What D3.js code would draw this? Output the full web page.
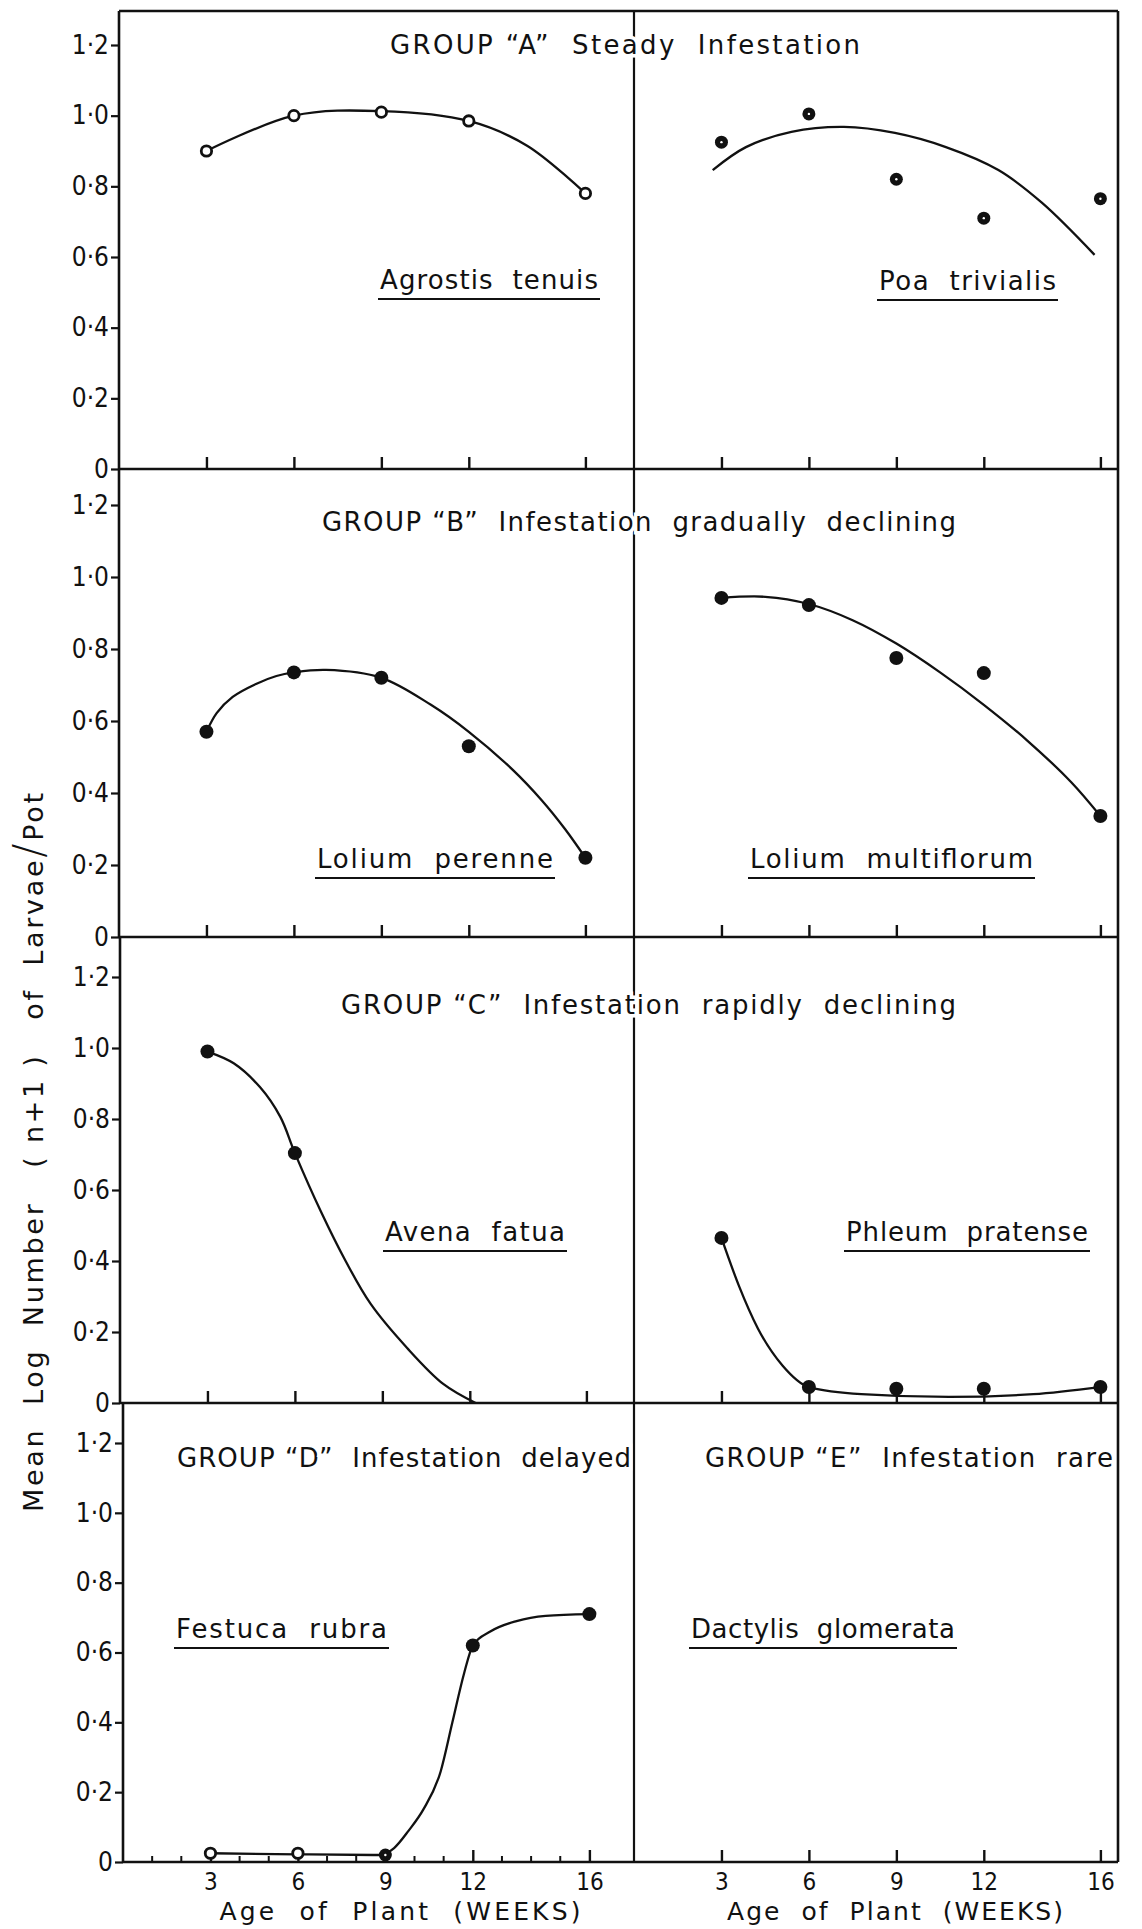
<!DOCTYPE html>
<html>
<head>
<meta charset="utf-8">
<script src="https://cdn.jsdelivr.net/npm/d3@7"></script>
<style>
  body { margin: 0; background: #fff; }
  svg text { font-family: "DejaVu Sans", "Open Sans", sans-serif; fill: #111; white-space: pre; }
  svg .tick text { font-family: "DejaVu Sans Condensed", "DejaVu Sans", sans-serif; }
</style>
</head>
<body>
<svg id="chart" width="1142" height="1929"></svg>
<script>
// ---- data ----------------------------------------------------------------
const weeks = [3, 6, 9, 12, 16];
const minorWeeks = [1, 2, 4, 5, 7, 8, 10, 11, 13, 14, 15];
const yTickValues = [0, 0.2, 0.4, 0.6, 0.8, 1.0, 1.2];
const xTickLabels = ["3", "6", "9", "12", "16"];

const groupTitles = [
  "GROUP \u201CA\u201D  Steady  Infestation",
  "GROUP \u201CB\u201D  Infestation  gradually  declining",
  "GROUP \u201CC\u201D  Infestation  rapidly  declining",
  "GROUP \u201CD\u201D  Infestation  delayed",
  "GROUP \u201CE\u201D  Infestation  rare"
];
const speciesNames = [
  "Agrostis  tenuis", "Poa  trivialis",
  "Lolium  perenne", "Lolium  multiflorum",
  "Avena  fatua", "Phleum  pratense",
  "Festuca  rubra", "Dactylis  glomerata"
];

// mean log (n+1) larvae per pot at 3, 6, 9, 12 and 16 weeks
const agrostisTenuis    = [0.90, 1.00, 1.01, 0.985, 0.78];
const poaTrivialis      = [0.925, 1.005, 0.82, 0.71, 0.765];
const loliumPerenne     = [0.57, 0.735, 0.72, 0.53, 0.22];
const loliumMultiflorum = [0.942, 0.922, 0.775, 0.733, 0.336];
const avenaFatua        = [0.99, 0.704, null, null, null];
const phleumPratense    = [0.465, 0.045, 0.04, 0.04, 0.045];
const festucaRubra      = [0.025, 0.025, 0.02, 0.62, 0.71];
const dactylisGlomerata = [null, null, null, null, null];

// hand-fitted trend curves: [week, value]
const agrostisTenuisFit = [[3,0.90],[6,1.0],[9,1.013],[12,0.985],[14,0.915],[16,0.78]];
const poaTrivialisFit = [[2.7,0.846],[3.84,0.911],[5.4,0.954],[7.2,0.968],[8.95,0.951],[10.7,0.911],[12.5,0.846],[14.0,0.753],[15.8,0.606]];
const loliumPerenneFit = [[3,0.57],[3.35,0.622],[3.9,0.667],[4.7,0.703],[5.4,0.725],[6,0.735],[7.1,0.742],[9,0.72],[10.7,0.645],[12,0.57],[13.5,0.465],[14.5,0.38],[15.3,0.3],[16,0.22]];
const loliumMultiflorumFit = [[3,0.942],[4.5,0.945],[6,0.925],[7.5,0.88],[9,0.815],[10.5,0.735],[12,0.645],[13.5,0.545],[15,0.43],[16,0.336]];
const avenaFatuaFit = [[3,0.99],[3.9,0.957],[4.8,0.89],[5.5,0.806],[6,0.704],[6.9,0.538],[7.74,0.40],[8.6,0.279],[9.85,0.155],[11.1,0.053],[12.2,0]];
const phleumPratenseFit = [[3,0.465],[3.6,0.33],[4.25,0.21],[5.1,0.105],[6,0.045],[7.8,0.025],[10.8,0.017],[13.7,0.025],[16,0.045]];
const festucaRubraFit = [[3,0.025],[6,0.022],[8.8,0.02],[9.3,0.04],[9.8,0.09],[10.3,0.15],[10.9,0.26],[11.3,0.40],[11.7,0.54],[12,0.62],[12.6,0.66],[13.5,0.69],[14.5,0.705],[16,0.71]];

// marker style of each plotted mean
const agrostisTenuisMarks    = ["open", "open", "open", "open", "open"];
const poaTrivialisMarks      = ["ring", "ring", "ring", "ring", "ring"];
const loliumPerenneMarks     = ["filled", "filled", "filled", "filled", "filled"];
const loliumMultiflorumMarks = ["filled", "filled", "filled", "filled", "filled"];
const avenaFatuaMarks        = ["filled", "filled", "filled", "filled", "filled"];
const phleumPratenseMarks    = ["filled", "filled", "filled", "filled", "filled"];
const festucaRubraMarks      = ["open", "open", "ring", "filled", "filled"];

// ---- layout --------------------------------------------------------------
const svg = d3.select("#chart");
const rows = [
  { top: 11,   base: 469,  y12: 45,   left: 119 },
  { top: 469,  base: 937,  y12: 505,  left: 119 },
  { top: 937,  base: 1403, y12: 977,  left: 120 },
  { top: 1403, base: 1862, y12: 1443, left: 123 }
];
const divider = 634, rightEdge = 1118, weekPx = 29.15;

const panels = [
  { row: 0, side: 0, name: 0, values: agrostisTenuis, fit: agrostisTenuisFit, marks: agrostisTenuisMarks, label: [380, 289, 218], smooth: true },
  { row: 0, side: 1, name: 1, values: poaTrivialis, fit: poaTrivialisFit, marks: poaTrivialisMarks, label: [879, 290, 177], smooth: true },
  { row: 1, side: 0, name: 2, values: loliumPerenne, fit: loliumPerenneFit, marks: loliumPerenneMarks, label: [317, 868, 236], smooth: true },
  { row: 1, side: 1, name: 3, values: loliumMultiflorum, fit: loliumMultiflorumFit, marks: loliumMultiflorumMarks, label: [750, 868, 283], smooth: true },
  { row: 2, side: 0, name: 4, values: avenaFatua, fit: avenaFatuaFit, marks: avenaFatuaMarks, label: [385, 1241, 180], smooth: true },
  { row: 2, side: 1, name: 5, values: phleumPratense, fit: phleumPratenseFit, marks: phleumPratenseMarks, label: [846, 1241, 242], smooth: false },
  { row: 3, side: 0, name: 6, values: festucaRubra, fit: festucaRubraFit, marks: festucaRubraMarks, label: [176, 1638, 211], smooth: false },
  { row: 3, side: 1, name: 7, values: dactylisGlomerata, fit: null, marks: null, label: [691, 1638, 264], smooth: false }
];

// group titles: [x, baseline, length]
const titlePos = [[390, 54, 470], [322, 531, 634], [341, 1014, 615], [177, 1467, 454], [705, 1467, 408]];

const yFormat = d => d === 0 ? "0" : d3.format(".1f")(d).replace(".", "\u00B7");
const ink = "#111";

// ---- frame ---------------------------------------------------------------
const frame = svg.append("g").attr("stroke", ink).attr("stroke-width", 2.6).attr("fill", "none");
frame.append("line").attr("x1", rows[0].left).attr("x2", rightEdge).attr("y1", rows[0].top).attr("y2", rows[0].top);
frame.append("line").attr("x1", rightEdge).attr("x2", rightEdge).attr("y1", rows[0].top).attr("y2", rows[3].base);
frame.append("line").attr("x1", divider).attr("x2", divider).attr("y1", rows[0].top).attr("y2", rows[3].base).attr("stroke-width", 2.2);
rows.forEach(r => {
  frame.append("line").attr("x1", r.left).attr("x2", r.left).attr("y1", r.top).attr("y2", r.base);
  frame.append("line").attr("x1", r.left).attr("x2", rightEdge).attr("y1", r.base).attr("y2", r.base);
});

// ---- y axes --------------------------------------------------------------
rows.forEach(r => {
  const y = d3.scaleLinear().domain([0, 1.2]).range([r.base, r.y12]);
  const g = svg.append("g").attr("transform", `translate(${r.left},0)`)
    .call(d3.axisLeft(y).tickValues(yTickValues).tickSize(8).tickPadding(2).tickFormat(yFormat));
  g.select(".domain").remove();
  g.selectAll(".tick line").attr("stroke", ink).attr("stroke-width", 2.2);
  g.selectAll(".tick text").attr("font-size", 26).attr("fill", ink).attr("font-family", null);
});

// ---- panels --------------------------------------------------------------
panels.forEach(p => {
  const r = rows[p.row];
  const x0 = p.side === 0 ? r.left : divider;
  const x = d3.scaleLinear().domain([0, 16]).range([x0, x0 + 16 * weekPx]);
  const y = d3.scaleLinear().domain([0, 1.2]).range([r.base, r.y12]);

  // week ticks pointing up into the panel
  const isBottom = p.row === 3;
  const ax = svg.append("g").attr("transform", `translate(0,${r.base})`)
    .call(d3.axisBottom(x).tickValues(weeks).tickSizeInner(-12).tickSizeOuter(0).tickPadding(11)
      .tickFormat((d, i) => isBottom ? xTickLabels[i] : ""));
  ax.select(".domain").remove();
  ax.selectAll(".tick line").attr("stroke", ink).attr("stroke-width", 2.4);
  ax.selectAll(".tick text").attr("font-size", 24).attr("fill", ink).attr("font-family", null);

  if (p.row === 3 && p.side === 0) {
    svg.append("g").attr("stroke", ink).attr("stroke-width", 2)
      .selectAll("line").data(minorWeeks).join("line")
      .attr("x1", d => x(d)).attr("x2", d => x(d))
      .attr("y1", r.base).attr("y2", r.base - 6);
  }

  // trend curve
  if (p.fit) {
    const line = d3.line()
      .curve(p.smooth ? d3.curveCatmullRom.alpha(0.5) : d3.curveMonotoneX)
      .x(d => x(d[0])).y(d => y(d[1]));
    svg.append("path").datum(p.fit).attr("d", line)
      .attr("fill", "none").attr("stroke", ink).attr("stroke-width", 2.3);
  }

  // plotted means
  const pts = weeks.map((w, i) => ({ w, v: p.values[i], m: p.marks ? p.marks[i] : null }))
    .filter(d => d.v !== null);
  const mg = svg.append("g");
  pts.forEach(d => {
    const cx = x(d.w), cy = y(d.v);
    if (d.m === "filled") {
      mg.append("circle").attr("cx", cx).attr("cy", cy).attr("r", 7).attr("fill", ink);
    } else if (d.m === "ring") {
      mg.append("circle").attr("cx", cx).attr("cy", cy).attr("r", 6.5).attr("fill", ink);
      mg.append("circle").attr("cx", cx).attr("cy", cy).attr("r", 1.2).attr("fill", "#fff");
    } else {
      mg.append("circle").attr("cx", cx).attr("cy", cy).attr("r", 5.2)
        .attr("fill", "#fff").attr("stroke", ink).attr("stroke-width", 2.8);
    }
  });

  // species name, underlined
  const [lx, ly, lw] = p.label;
  svg.append("text").attr("x", lx).attr("y", ly).attr("font-size", 26)
    .attr("textLength", lw).attr("lengthAdjust", "spacing").text(speciesNames[p.name]);
  svg.append("line").attr("x1", lx - 2).attr("x2", lx + lw + 2)
    .attr("y1", ly + 10).attr("y2", ly + 10).attr("stroke", ink).attr("stroke-width", 2.2);
});

// ---- group titles --------------------------------------------------------
groupTitles.forEach((t, i) => {
  const [tx, ty, tw] = titlePos[i];
  svg.append("text").attr("x", tx).attr("y", ty).attr("font-size", 26)
    .attr("textLength", tw).attr("lengthAdjust", "spacing")
    .attr("stroke", "#fff").attr("stroke-width", 7).attr("paint-order", "stroke")
    .text(t);
});

// ---- axis titles ---------------------------------------------------------
[[400, 361], [895, 336]].forEach(([cx, w]) => {
  svg.append("text").attr("x", cx - w / 2).attr("y", 1920).attr("font-size", 25)
    .attr("textLength", w).attr("lengthAdjust", "spacing")
    .text("Age  of  Plant  (WEEKS)");
});

const yl = svg.append("text").attr("transform", "translate(43,1512) rotate(-90)")
  .attr("font-size", 27).attr("textLength", 719).attr("lengthAdjust", "spacing");
yl.append("tspan").text("Mean  Log  Number   ( n+1 )   of  Larvae");
yl.append("tspan").attr("font-size", 42).attr("font-weight", 300).text("/");
yl.append("tspan").text("Pot");
</script>
</body>
</html>
